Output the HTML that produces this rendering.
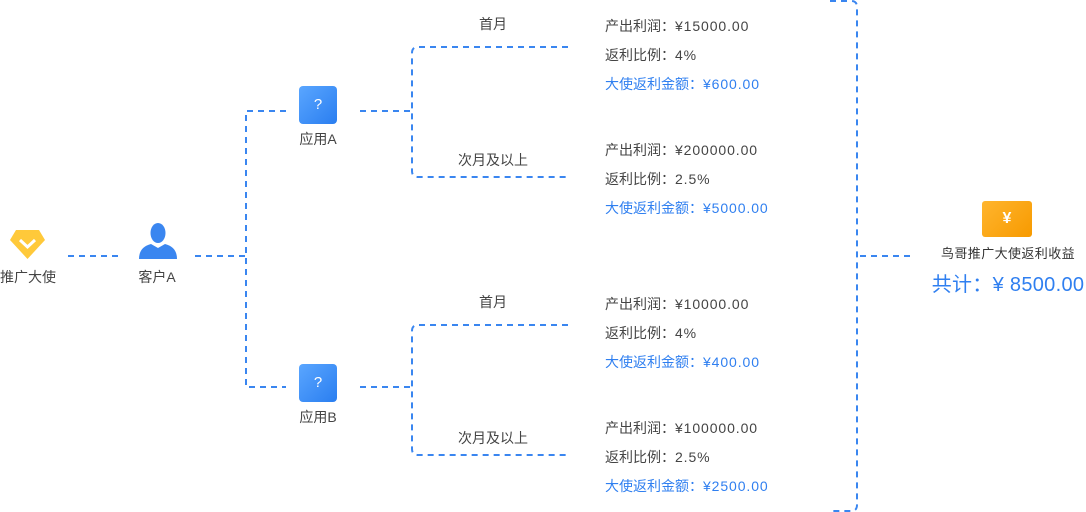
<!DOCTYPE html>
<html><head><meta charset="utf-8"><style>
body{margin:0;width:1086px;height:512px;background:#fff;overflow:hidden;position:relative;font-family:"Liberation Sans","Noto Sans CJK SC",sans-serif}
.t{position:absolute;font-size:14px;color:#444;white-space:nowrap;line-height:18px}
.r span{letter-spacing:0.9px}
.b{color:#2f7ff0}
.c{transform:translateX(-50%)}
.q{position:absolute;width:38px;height:38px;border-radius:4px;background:linear-gradient(135deg,#5aa6ff,#2a7ef0);color:#fff;font-size:15px;text-align:center;line-height:38px}
</style></head><body>
<svg width="1086" height="512" style="position:absolute;left:0;top:0" fill="none" stroke="#3a86f0" stroke-width="2" stroke-dasharray="6 5">
<path d="M68 256H120"/>
<path d="M195 256H246"/>
<path d="M286 111H246V387H286"/>
<path d="M360 111H412"/>
<path d="M568 47H418Q412 47 412 53V171Q412 177 418 177H568"/>
<path d="M360 387H412"/>
<path d="M568 325H418Q412 325 412 331V449Q412 455 418 455H568"/>
<path d="M830 1H851Q857 1 857 7V505Q857 511 851 511H830"/>
<path d="M860 256H912"/>
</svg>
<svg style="position:absolute;left:10px;top:228px" width="35" height="32" viewBox="0 0 35 32"><path d="M6 2H29L35 12L17.5 31L0 12Z" fill="#ffc93a" stroke-linejoin="round"/><path d="M10 12L17.5 19L25 12" stroke="#fff" stroke-width="3" fill="none"/></svg>
<div class="t c" style="left:28px;top:268px">推广大使</div>
<svg style="position:absolute;left:139px;top:222px" width="38" height="38" viewBox="0 0 38 38"><ellipse cx="19" cy="11" rx="7.5" ry="10" fill="#3a86f0"/><path d="M0 37Q0 25 12 22L19 26L26 22Q38 25 38 37Z" fill="#3a86f0"/></svg>
<div class="t c" style="left:157px;top:268px">客户A</div>
<div class="q" style="left:299px;top:86px">?</div>
<div class="t c" style="left:318px;top:130px">应用A</div>
<div class="q" style="left:299px;top:364px">?</div>
<div class="t c" style="left:318px;top:408px">应用B</div>
<div class="t c" style="left:493px;top:15px">首月</div>
<div class="t c" style="left:493px;top:151px">次月及以上</div>
<div class="t c" style="left:493px;top:293px">首月</div>
<div class="t c" style="left:493px;top:429px">次月及以上</div>
<div class="t r" style="left:605px;top:17px">产出利润：<span>¥15000.00</span></div>
<div class="t r" style="left:605px;top:46px">返利比例：<span>4%</span></div>
<div class="t r b" style="left:605px;top:75px">大使返利金额：<span>¥600.00</span></div>
<div class="t r" style="left:605px;top:141px">产出利润：<span>¥200000.00</span></div>
<div class="t r" style="left:605px;top:170px">返利比例：<span>2.5%</span></div>
<div class="t r b" style="left:605px;top:199px">大使返利金额：<span>¥5000.00</span></div>
<div class="t r" style="left:605px;top:295px">产出利润：<span>¥10000.00</span></div>
<div class="t r" style="left:605px;top:324px">返利比例：<span>4%</span></div>
<div class="t r b" style="left:605px;top:353px">大使返利金额：<span>¥400.00</span></div>
<div class="t r" style="left:605px;top:419px">产出利润：<span>¥100000.00</span></div>
<div class="t r" style="left:605px;top:448px">返利比例：<span>2.5%</span></div>
<div class="t r b" style="left:605px;top:477px">大使返利金额：<span>¥2500.00</span></div>
<div style="position:absolute;left:982px;top:201px;width:50px;height:36px;border-radius:3px;background:linear-gradient(135deg,#ffb52e,#f79a00);color:#fff;font-size:16px;text-align:center;line-height:36px;font-weight:bold">¥</div>
<div class="t c" style="left:1008px;top:245px;font-size:13px;color:#333;letter-spacing:0.4px">鸟哥推广大使返利收益</div>
<div class="t c b" style="left:1008px;top:273px;font-size:20px;line-height:24px;letter-spacing:0.3px">共计：¥ 8500.00</div>
</body></html>
